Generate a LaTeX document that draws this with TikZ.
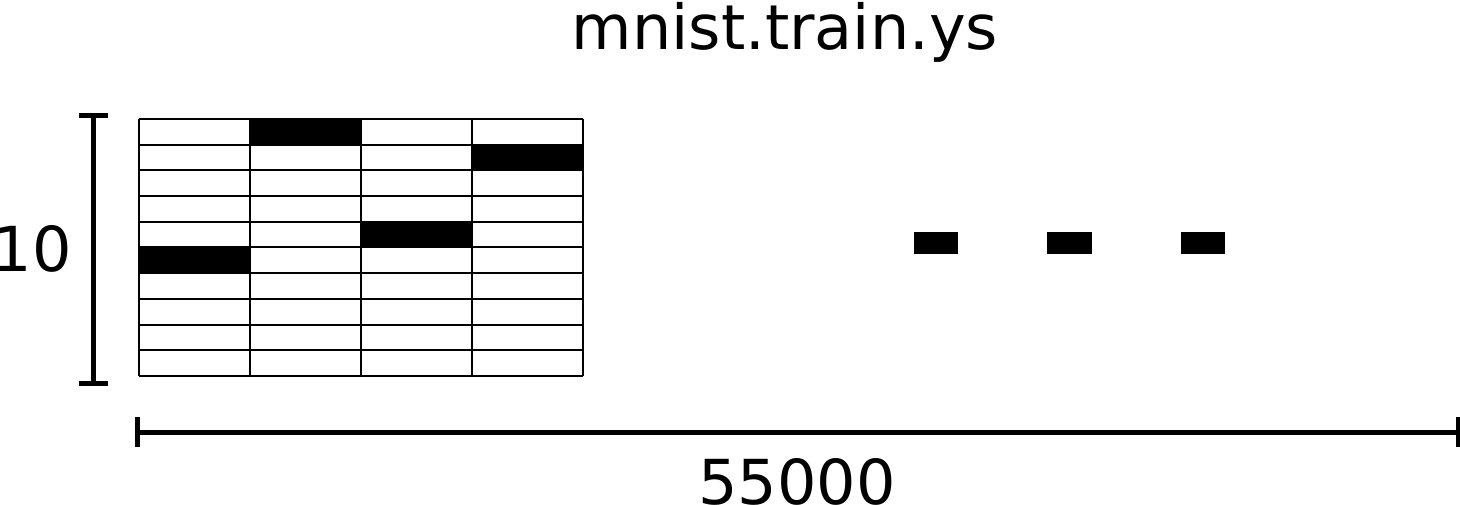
\documentclass[tikz,border=0pt]{standalone}
\usepackage{fontspec}
\setmainfont{DejaVu Sans}
\begin{document}
\begin{tikzpicture}[x=1pt,y=-1pt,
  cellline/.style={line width=2pt},
  blackcell/.style={fill=black},
  bracketline/.style={line width=5pt},
  dashbox/.style={fill=black},
  lbl/.style={font=\fontsize{62}{62}\selectfont, inner sep=0pt}]
\useasboundingbox (0,0) rectangle (1460,505);
% title
\node[lbl, anchor=base] (title) at (785,50) {mnist.train.ys};
% black cells
\foreach \c/\r in {1/0,3/1,2/4,0/5}{
  \fill[blackcell] ({139+\c*111},{119+\r*25.7}) rectangle ({139+(\c+1)*111},{119+(\r+1)*25.7});
}
% grid
\foreach \r in {0,...,10}{
  \draw[cellline] (139,{119+\r*25.7}) -- (583,{119+\r*25.7});
}
\foreach \c in {0,...,4}{
  \draw[cellline] ({139+\c*111},119) -- ({139+\c*111},376);
}
% vertical bracket
\coordinate (vt) at (93,116);
\coordinate (vb) at (93,383);
\draw[bracketline] (vt) -- (vb);
\draw[bracketline] (79,116) -- (108,116);
\draw[bracketline] (79,383) -- (108,383);
\node[lbl, anchor=base east] (ten) at (72,272) {10};
% horizontal bracket
\coordinate (hl) at (137,432);
\coordinate (hr) at (1458,432);
\draw[bracketline] (hl) -- (hr);
\draw[bracketline] (137,417) -- (137,447);
\draw[bracketline] (1458,417) -- (1458,447);
\node[lbl, anchor=base] (count) at (797,504) {55000};
% dashes
\fill[dashbox] (914,232) rectangle (958,254);
\fill[dashbox] (1047,232) rectangle (1092,254);
\fill[dashbox] (1181,232) rectangle (1225,254);
\end{tikzpicture}
\end{document}
